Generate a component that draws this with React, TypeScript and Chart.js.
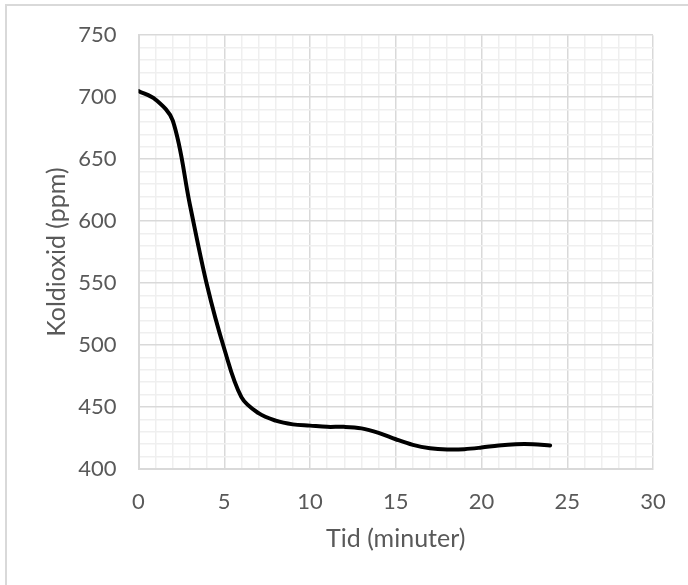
import React, { useEffect, useRef } from "react";
import { Chart, registerables } from "chart.js";

Chart.register(...registerables);

const timeMinutes = [0, 1, 2, 3, 4, 5, 6, 7, 8, 9, 10, 11, 12, 13, 14, 15, 16, 17, 18, 19, 20, 21, 22, 23, 24];
const co2Ppm = [705, 698, 681, 613, 548, 497, 458, 445, 439, 436, 435, 434, 434, 432.8, 429.2, 424, 419.5, 416.8, 415.8, 416, 417.3, 419, 420, 420, 419];

const xTitle = "Tid (minuter)";
const yTitle = "Koldioxid (ppm)";
const xMin = 0, xMax = 30, xMajor = 5;
const yMin = 400, yMax = 750, yMajor = 50, yMinor = 10;

const FONT = "Lato, 'Open Sans', sans-serif";
const TEXT = "#595959";
const MAJOR = "#d9d9d9";
const MINOR = "#efefef";

const framePlugin = {
  id: "frame",
  beforeDraw(chart: any) {
    const { ctx, width, height } = chart;
    ctx.save();
    ctx.fillStyle = "#ffffff";
    ctx.fillRect(0, 0, width, height);
    ctx.strokeStyle = "#d9d9d9";
    ctx.lineWidth = 2;
    ctx.beginPath();
    ctx.moveTo(6, height);
    ctx.lineTo(6, 5);
    ctx.lineTo(width, 5);
    ctx.stroke();
    ctx.restore();
  },
};

export default function App() {
  const ref = useRef<HTMLCanvasElement | null>(null);
  useEffect(() => {
    if (!ref.current) return;
    const chart = new Chart(ref.current, {
      type: "line",
      data: {
        datasets: [
          {
            data: timeMinutes.map((t, i) => ({ x: t, y: co2Ppm[i] })),
            borderColor: "#000000",
            borderWidth: 4,
            borderCapStyle: "round",
            borderJoinStyle: "round",
            pointRadius: 0,
            tension: 0.35,
            fill: false,
          },
        ],
      },
      options: {
        responsive: false,
        animation: false,
        layout: { padding: { top: 34, right: 35, left: 0, bottom: 0 } },
        plugins: { legend: { display: false }, tooltip: { enabled: false } },
        scales: {
          x: {
            type: "linear",
            min: xMin,
            max: xMax,
            afterFit: (s: any) => { s.height = 116; },
            border: { display: true, color: MAJOR, width: 2 },
            grid: {
              drawTicks: false,
              lineWidth: 1.5,
              color: (c: any) => (c.tick && c.tick.value % xMajor === 0 ? MAJOR : MINOR),
            },
            ticks: {
              stepSize: 1,
              autoSkip: false,
              maxRotation: 0,
              padding: 20,
              color: TEXT,
              font: { family: FONT, size: 22 },
              callback: (v: any) => (Number(v) % xMajor === 0 ? String(v) : ""),
            },
            title: {
              display: true,
              text: xTitle,
              color: TEXT,
              font: { family: FONT, size: 25 },
              padding: { top: 0, bottom: 31 },
            },
          },
          y: {
            type: "linear",
            min: yMin,
            max: yMax,
            afterFit: (s: any) => { s.width = 138.5; },
            border: { display: true, color: MAJOR, width: 2 },
            grid: {
              drawTicks: false,
              lineWidth: 1.5,
              color: (c: any) => (c.tick && c.tick.value % yMajor === 0 ? MAJOR : MINOR),
            },
            ticks: {
              stepSize: yMinor,
              autoSkip: false,
              padding: 22,
              color: TEXT,
              font: { family: FONT, size: 22 },
              callback: (v: any) => (Number(v) % yMajor === 0 ? String(v) : ""),
            },
            title: {
              display: true,
              text: yTitle,
              color: TEXT,
              font: { family: FONT, size: 25 },
              padding: { top: 42, bottom: 0 },
            },
          },
        },
      },
      plugins: [framePlugin],
    } as any);
    return () => chart.destroy();
  }, []);
  return (
    <div style={{ position: "fixed", left: 0, top: 0, width: 688, height: 585 }}>
      <canvas ref={ref} width={688} height={585} style={{ display: "block" }} />
    </div>
  );
}
